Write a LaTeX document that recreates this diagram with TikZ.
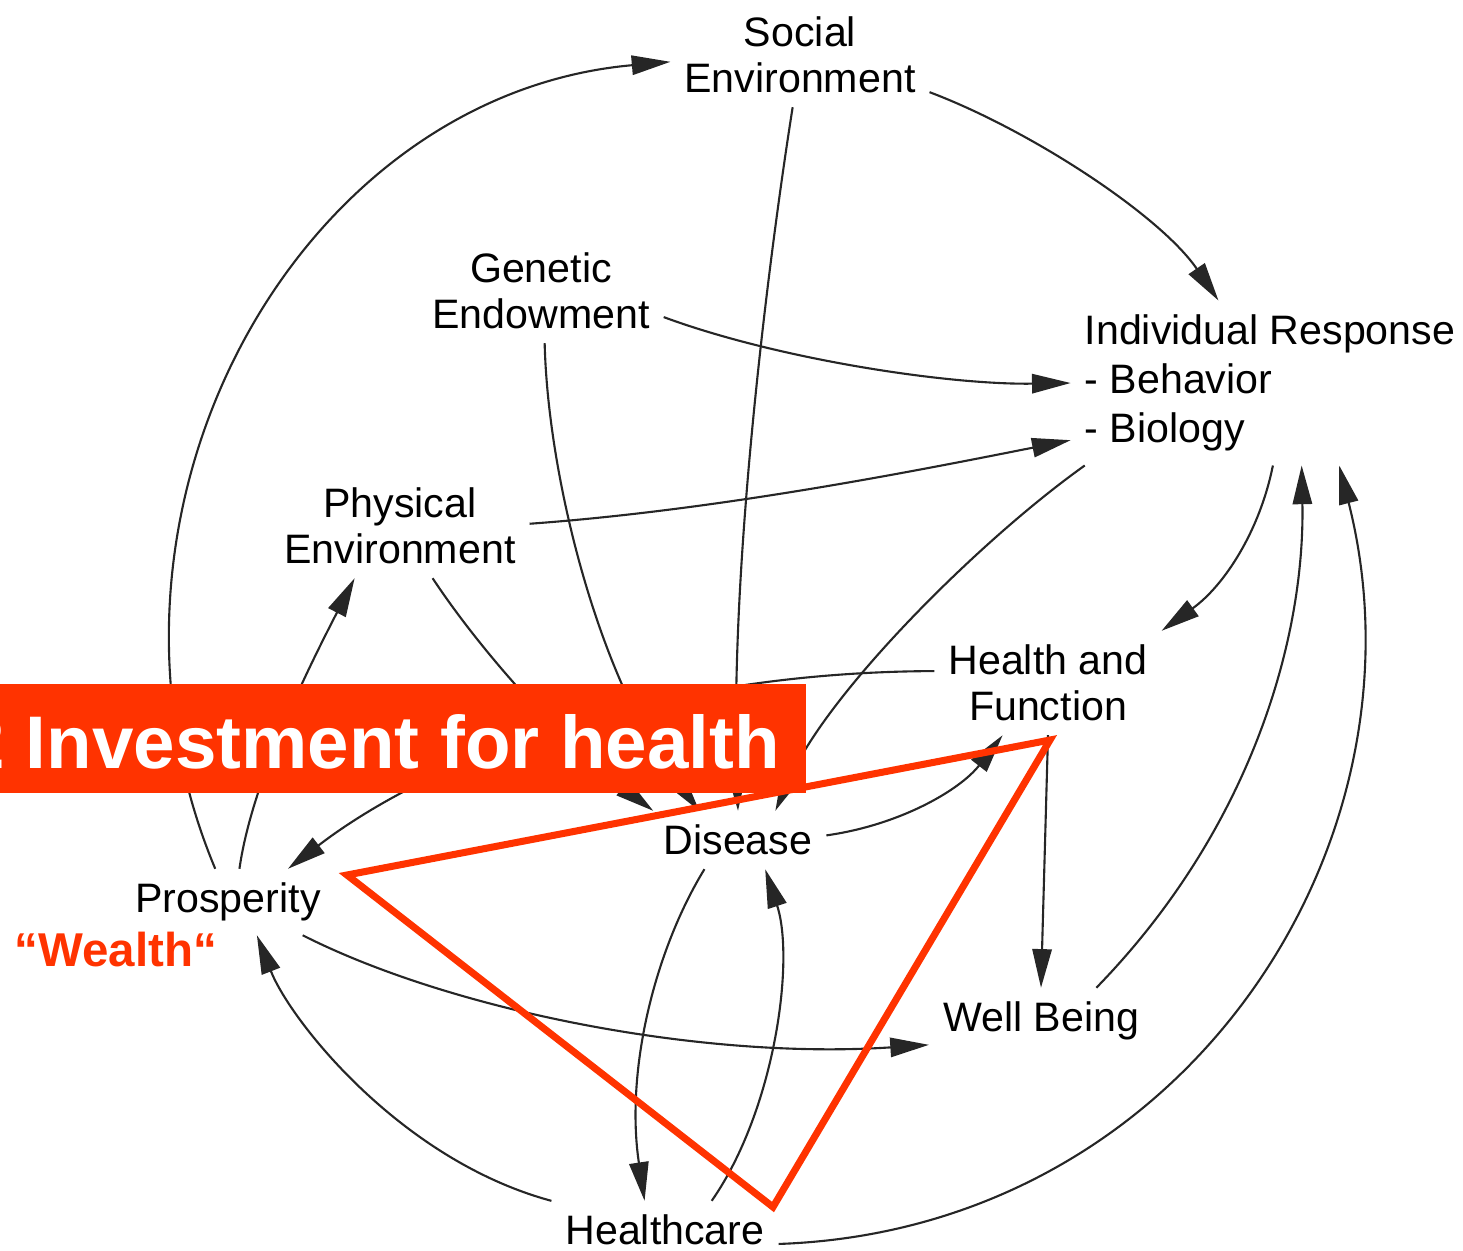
\documentclass[tikz,border=0pt]{standalone}
\usepackage{fontspec}
\setmainfont{Liberation Sans}
\usetikzlibrary{arrows.meta,calc}
\definecolor{hred}{RGB}{255,51,0}

\begin{document}
\begin{tikzpicture}[x=0.01cm,y=-0.01cm,
  every node/.style={font=\fontsize{11.7}{13.1}\selectfont,align=center,inner sep=2pt,outer sep=2pt},%
  e/.style={-{Triangle[length=11pt,width=5.5pt]},line width=0.6pt,black!85},%
  ]
  \useasboundingbox (0,0) rectangle (1463,1250);

  % fields of the model
  \node (social) at (800,55) {Social\\Environment};
  \node (genetic) at (541,291) {Genetic\\Endowment};
  \node (indiv) [align=left,font=\fontsize{11.7}{14}\selectfont] at (1270,383)
    {Individual Response\\- Behavior\\- Biology};
  \node (physical) at (400,526) {Physical\\Environment};
  \node (health) at (1048,683) {Health and\\Function};
  \node (disease) at (738,840) {Disease};
  \node (prosp) at (228,902) {Prosperity};
  \node (wealth) [text=hred,font=\bfseries\fontsize{13.5}{16}\selectfont] at (116,950) {“Wealth“};
  \node (wellbeing) at (1041,1021) {Well Being};
  \node (healthcare) at (665,1230) {Healthcare};

  % links
  \draw [e] (prosp.111) .. controls (66,512) and (296,95) .. (social.183);
  \draw [e] (social.-16) .. controls (1030,130) and (1160,215) .. (indiv.122);
  \draw [e] (social.262) .. controls (770,250) and (730,560) .. (disease.90);
  \draw [e] (genetic.-12) .. controls (780,360) and (950,385) .. (indiv.west);
  \draw [e] (genetic.-86) .. controls (548,480) and (600,680) .. (disease.143);
  \draw [e] (physical.1) .. controls (720,510) and (920,470) .. (indiv.196);
  \draw [e] (physical.-58) .. controls (480,650) and (560,740) .. (disease.161);
  \draw [e] (prosp.71) .. controls (252,780) and (310,665) .. (physical.229);
  \draw [e] (indiv.204) .. controls (980,540) and (830,690) .. (disease.38);
  \draw [e] (indiv.-88) .. controls (1260,530) and (1225,585) .. (health.north east);
  \draw [e] (wellbeing.31) .. controls (1250,830) and (1305,640) .. (indiv.-69);
  \draw [e] (healthcare.-7) .. controls (1185,1230) and (1435,843) .. (indiv.-50);
  \draw [e] (healthcare.north west) .. controls (400,1160) and (290,1020) .. (prosp.-49);
  \draw [e] (prosp.-24) .. controls (450,1010) and (700,1060) .. (wellbeing.192);
  \draw [e] (disease.221) .. controls (655,950) and (625,1070) .. (healthcare.125);
  \draw [e] (healthcare.32) .. controls (775,1110) and (795,960) .. (disease.-47);
  \draw [e] (disease.3) .. controls (900,825) and (960,790) .. (health.229);
  \draw [e] (health.south) -- (wellbeing.north);
  \draw [e] (health.174) .. controls (650,672) and (430,760) .. (prosp.29);

  % banner and triangle
  \fill [hred] (0,684) rectangle (806,793);
  \node (invest) [anchor=base east,inner sep=0pt,text=white,
    font=\bfseries\fontsize{21.2}{25}\selectfont] at (787,768) {2 Investment for health};
  \draw [hred,line width=2pt] (347,875) -- (1050,740) -- (773,1207) -- cycle;
\end{tikzpicture}
\end{document}
